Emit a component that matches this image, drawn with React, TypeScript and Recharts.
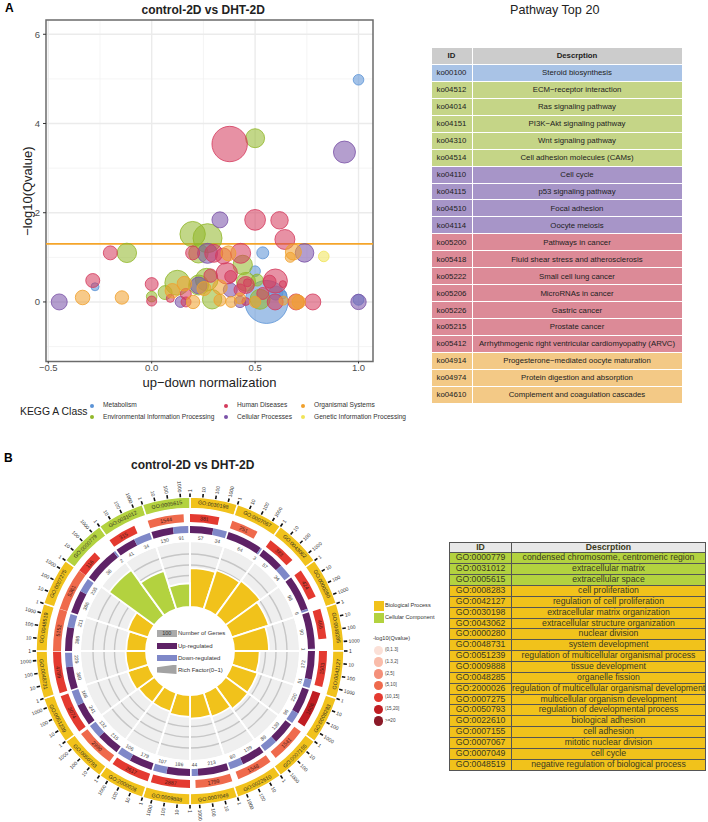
import React from 'react'
import {
    ScatterChart,
    Scatter,
    XAxis,
    YAxis,
    ZAxis,
    CartesianGrid,
    ReferenceLine,
    ReferenceArea,
    PieChart,
    Pie,
    Cell,
    Sector
} from 'recharts'

// bubbles: [up-down normalization, -log10(Qvalue), number of genes]
const metabolism = [
    [0.555, 0, 462], [1.0, 4.98, 28], [0.537, 1.1, 36], [0.5, 0.69, 28], [-0.274, 0.34, 16],
    [1.0, 0.05, 30], [0.634, 0.16, 16], [0.6, 0.2, 50]
]
const environmental = [
    [0.5, 3.67, 90], [0.198, 1.52, 161], [0.27, 1.43, 210], [-0.12, 1.1, 94], [0.44, 0.83, 94],
    [0.124, 0.43, 156], [0.266, 0.5, 128], [0.227, 0.38, 100], [0.065, 0.21, 49], [0, 0.12, 28],
    [0.292, 0.06, 94], [0.456, 0.45, 90], [0.524, 0.06, 100], [0.226, 1.09, 94], [0.51, 0.49, 36]
]
const cellular = [
    [0.932, 3.36, 121], [0.33, 1.84, 64], [-0.447, 0, 64], [0.739, 1.1, 86], [1.0, 0, 59],
    [0.27, 1.09, 100], [0.14, 0, 30], [0.427, 0, 32], [0.227, 0.37, 70], [0.38, 0.27, 49]
]
const humanDiseases = [
    [0.377, 3.54, 313], [0.5, 1.84, 108], [0.618, 1.83, 76], [0.644, 1.4, 100], [-0.2, 1.1, 49],
    [-0.285, 0.48, 49], [0, 0.4, 42], [0, 0.02, 25], [0.198, 1.1, 49], [0.3, 1.09, 81],
    [0.347, 1.03, 64], [0.43, 1.09, 100], [0.363, 0.64, 114], [0.285, 0.59, 45], [0.382, 0.57, 36],
    [0.598, 0.47, 144], [0.57, 0.455, 42], [0.634, 0.4, 12], [0.455, 0.38, 72], [0.463, 0.43, 16],
    [0.427, 0.27, 36], [0.165, 0.18, 30], [0.166, 0, 25], [0.537, 0.19, 36], [0.597, 0, 64],
    [0.698, 0, 64], [0.779, 0, 64], [0.455, 0.01, 16], [0.09, 0.08, 16]
]
const organismal = [
    [-0.334, 0.1, 53], [-0.144, 0.1, 45], [0.1, 0.25, 53], [0.158, 0.41, 53], [0.2, 0, 45],
    [0.371, 1.09, 56], [0.33, 0.33, 53], [0.253, 0.3, 49], [0.33, 0.04, 36], [0.384, 0, 30],
    [0.427, 0.08, 30], [0.5, 0, 32], [0.637, 0.03, 20], [0.7, 0, 56], [0.711, 0, 45],
    [0.67, 1.0, 25], [0.685, 1.12, 64]
]
const genetic = [[0.832, 1.02, 28]]

const bubbleClasses = [
    { name: 'Metabolism', rows: metabolism, color: '#5b93d6' },
    { name: 'Environmental Information Processing', rows: environmental, color: '#92b82a' },
    { name: 'Cellular Processes', rows: cellular, color: '#7a52a8' },
    { name: 'Human Diseases', rows: humanDiseases, color: '#d43a5c' },
    { name: 'Organismal Systems', rows: organismal, color: '#f0a02c' },
    { name: 'Genetic Information Processing', rows: genetic, color: '#f0e458' }
]

const keggLegend = [
    ['Metabolism', 'Human Diseases', 'Organismal Systems'],
    ['Environmental Information Processing', 'Cellular Processes', 'Genetic Information Processing']
]

const pathwayIds = [
    'ko00100', 'ko04512', 'ko04014', 'ko04151', 'ko04310', 'ko04514', 'ko04110', 'ko04115', 'ko04510', 'ko04114',
    'ko05200', 'ko05418', 'ko05222', 'ko05206', 'ko05226', 'ko05215', 'ko05412', 'ko04914', 'ko04974', 'ko04610'
]
const pathwayNames = [
    'Steroid biosynthesis', 'ECM−receptor interaction', 'Ras signaling pathway', 'PI3K−Akt signaling pathway',
    'Wnt signaling pathway', 'Cell adhesion molecules (CAMs)', 'Cell cycle', 'p53 signaling pathway',
    'Focal adhesion', 'Oocyte meiosis', 'Pathways in cancer', 'Fluid shear stress and atherosclerosis',
    'Small cell lung cancer', 'MicroRNAs in cancer', 'Gastric cancer', 'Prostate cancer',
    'Arrhythmogenic right ventricular cardiomyopathy (ARVC)', 'Progesterone−mediated oocyte maturation',
    'Protein digestion and absorption', 'Complement and coagulation cascades'
]
const pathwayColors = [
    '#a9c3e6',
    '#c5d587', '#c5d587', '#c5d587', '#c5d587', '#c5d587',
    '#a795c8', '#a795c8', '#a795c8', '#a795c8',
    '#dc8a97', '#dc8a97', '#dc8a97', '#dc8a97', '#dc8a97', '#dc8a97', '#dc8a97',
    '#f3c986', '#f3c986', '#f3c986'
]

// circle sectors, clockwise from 12 o'clock
const goIds = [
    'GO:0030198', 'GO:0007067', 'GO:0043062', 'GO:0000280', 'GO:0048285', 'GO:0042127', 'GO:0008283',
    'GO:0007155', 'GO:0022610', 'GO:0007049', 'GO:0009888', 'GO:2000026', 'GO:0050793', 'GO:0051239',
    'GO:0048731', 'GO:0048519', 'GO:0007275', 'GO:0000779', 'GO:0031012', 'GO:0005615'
]
const geneCounts = [381, 251, 383, 424, 466, 1503, 1606, 1541, 1548, 1799, 2887, 2617, 2990, 3074, 4789, 5152, 5361, 116, 315, 1544]
const upCounts = [57, 64, 57, 98, 90, 172, 220, 139, 139, 213, 186, 179, 215, 241, 360, 386, 386, 38, 41, 130]
const downCounts = [34, 3, 34, 6, 1, 51, 96, 89, 80, 44, 107, 106, 132, 166, 229, 211, 235, 2, 34, 91]
const richFactors = [0.59, 0.62, 0.65, 0.59, 0.53, 0.39, 0.41, 0.42, 0.38, 0.36, 0.33, 0.3, 0.3, 0.33, 0.31, 0.3, 0.33, 0.85, 0.61, 0.36]
const qvalueBins = [4, 3, 4, 4, 4, 4, 5, 3, 3, 3, 4, 4, 3, 4, 4, 3, 3, 4, 4, 3]
const goClasses = ['BP', 'BP', 'BP', 'BP', 'BP', 'BP', 'BP', 'BP', 'BP', 'BP', 'BP', 'BP', 'BP', 'BP', 'BP', 'BP', 'BP', 'CC', 'CC', 'CC']
const tickValues = ['1', '10', '100', '1000']

const qvalueLabels = ['(0,1.3]', '(1.3,2]', '(2,5]', '(5,10]', '(10,15]', '(15,20]', '>=20']
const qvalueColors = ['#fbe0d7', '#f9bcaa', '#f4907a', '#ef6a4c', '#e43a30', '#c01d22', '#8b1a28']
const classColors: Record<string, string> = { BP: '#f1c21b', CC: '#b3d23f' }

const goTableIds = [
    'GO:0000779', 'GO:0031012', 'GO:0005615', 'GO:0008283', 'GO:0042127', 'GO:0030198', 'GO:0043062',
    'GO:0000280', 'GO:0048731', 'GO:0051239', 'GO:0009888', 'GO:0048285', 'GO:2000026', 'GO:0007275',
    'GO:0050793', 'GO:0022610', 'GO:0007155', 'GO:0007067', 'GO:0007049', 'GO:0048519'
]
const goTableNames = [
    'condensed chromosome, centromeric region', 'extracellular matrix', 'extracellular space', 'cell proliferation',
    'regulation of cell proliferation', 'extracellular matrix organization', 'extracellular structure organization',
    'nuclear division', 'system development', 'regulation of multicellular organismal process', 'tissue development',
    'organelle fission', 'regulation of multicellular organismal development', 'multicellular organism development',
    'regulation of developmental process', 'biological adhesion', 'cell adhesion', 'mitotic nuclear division',
    'cell cycle', 'negative regulation of biological process'
]

const SECTOR = 18
const DECADE = 4.8
const HOLE = 44
const RICH_SPAN = 66

const outerRing = goIds.map((id, i) => ({ id, value: 1, cls: goClasses[i] }))
const richRing = goIds.map((id, i) => ({ id, value: 1, rich: richFactors[i], cls: goClasses[i] }))
const countRing = geneCounts.flatMap((count, i) => {
    const span = Math.log10(count) * DECADE
    return [{ value: span, count, bin: qvalueBins[i] }, { value: SECTOR - span, bin: -1 }]
})
const regulationRing = upCounts.flatMap((up, i) => {
    const total = up + downCounts[i]
    return [
        { value: (up / total) * 17.2, count: up, kind: 'up' },
        { value: (downCounts[i] / total) * 17.2, count: downCounts[i], kind: 'down' },
        { value: 0.8, kind: 'gap' }
    ]
})
const tickRing = goIds.flatMap(() => tickValues.map((tick, i) => ({ tick, value: i === 3 ? SECTOR - 3 * DECADE : DECADE })))

const polar = (cx: number, cy: number, r: number, angle: number) => ({
    x: cx + r * Math.cos((angle * Math.PI) / 180),
    y: cy - r * Math.sin((angle * Math.PI) / 180)
})

const tangent = (angle: number) => {
    const t = ((90 - angle) % 360 + 360) % 360
    if (t > 90 && t < 270) return t - 180
    return t > 270 ? t - 360 : t
}

const ringText = (cx: number, cy: number, r: number, angle: number, text: any, size: number, color = '#33301f') => {
    const p = polar(cx, cy, r, angle)
    return (
        <text x={p.x} y={p.y} fontSize={size} fill={color} textAnchor="middle" dominantBaseline="central"
            transform={`rotate(${tangent(angle)} ${p.x} ${p.y})`}>{text}</text>
    )
}

const renderOuterLabel = (props: any) =>
    ringText(props.cx, props.cy, (props.innerRadius + props.outerRadius) / 2, props.midAngle, props.payload.id ?? props.id, 5.4)

const renderCountLabel = (props: any) => {
    const count = props.payload.count ?? props.count
    if (count === undefined) return <g />
    return ringText(props.cx, props.cy, (props.innerRadius + props.outerRadius) / 2, props.midAngle, count, 5.4, '#4a1a14')
}

const renderRegulationLabel = (props: any) => {
    const count = props.payload.count ?? props.count
    if (count === undefined) return <g />
    return ringText(props.cx, props.cy, 113.5, props.midAngle, count, 5, '#444')
}

const renderTick = (props: any) => {
    const { cx, cy, startAngle } = props
    const tick = props.payload.tick ?? props.tick
    const a = polar(cx, cy, 154, startAngle)
    const b = polar(cx, cy, 157.5, startAngle)
    const c = polar(cx, cy, 159, startAngle)
    const t = ((90 - startAngle) % 360 + 360) % 360
    const rightSide = t < 180
    return (
        <g>
            <line x1={a.x} y1={a.y} x2={b.x} y2={b.y} stroke="#111" strokeWidth={1.6} />
            <text x={c.x} y={c.y} fontSize={5} fill="#333" dominantBaseline="central"
                textAnchor={rightSide ? 'start' : 'end'}
                transform={`rotate(${rightSide ? t - 90 : t + 90} ${c.x} ${c.y})`}>{tick}</text>
        </g>
    )
}

const renderRichBar = (props: any) => {
    const rich = props.payload?.rich ?? props.rich
    return <Sector {...props} outerRadius={HOLE + RICH_SPAN * rich} />
}

const absText = (left: number, top: number, text: string, style: React.CSSProperties = {}) => (
    <div style={{ position: 'absolute', left, top, whiteSpace: 'nowrap', lineHeight: 1, ...style }}>{text}</div>
)

const GRID_RADII = [75.5, 86, 97]
const legendRowY = [405.5, 417]
const legendColX = [92, 226, 303]
const legendColors: Record<string, string> = {
    Metabolism: '#5b93d6', 'Environmental Information Processing': '#92b82a', 'Human Diseases': '#d43a5c',
    'Cellular Processes': '#7a52a8', 'Organismal Systems': '#f0a02c', 'Genetic Information Processing': '#f0e458'
}

const CX = 190
const CY = 181

export default function App() {
    return (
        <div style={{ position: 'absolute', left: 0, top: 0, width: 708, height: 822, background: '#fff', fontFamily: '"Liberation Sans", Arial, sans-serif', overflow: 'hidden' }}>
            {absText(5, 2, 'A', { fontSize: 12, fontWeight: 700 })}
            {absText(4, 452, 'B', { fontSize: 12, fontWeight: 700 })}
            {absText(141.5, 3.5, 'control-2D vs DHT-2D', { fontSize: 12, fontWeight: 700, color: '#222' })}
            {absText(131, 459, 'control-2D vs DHT-2D', { fontSize: 12, fontWeight: 700, color: '#222' })}
            {absText(510, 4, 'Pathway Top 20', { fontSize: 12.6, color: '#222' })}

            <div style={{ position: 'absolute', left: 0, top: 0 }}>
                <ScatterChart width={400} height={400} margin={{ top: 20, right: 27, bottom: 0, left: 0 }}>
                    <CartesianGrid stroke="#f1f1f1" strokeWidth={0.8} horizontalValues={[-1, 1, 3, 5]} verticalValues={[-0.25, 0.25, 0.75]} />
                    <CartesianGrid stroke="#ebebeb" strokeWidth={1.4} horizontalValues={[0, 2, 4, 6]} verticalValues={[-0.5, 0, 0.5, 1]} />
                    <XAxis type="number" dataKey="x" domain={[-0.511, 1.07]} ticks={[-0.5, 0, 0.5, 1]} height={38.5}
                        tickFormatter={(v: number) => (v < 0 ? '−' + Math.abs(v).toFixed(1) : v.toFixed(1))}
                        tick={{ fontSize: 9.5, fill: '#4d4d4d' }} tickSize={2} tickMargin={1}
                        axisLine={false} tickLine={{ stroke: '#333' }}
                        label={{ value: 'up−down normalization', position: 'insideBottom', offset: 13.5, fontSize: 13, fill: '#222' }} />
                    <YAxis type="number" dataKey="y" domain={[-1.335, 6.32]} ticks={[0, 2, 4, 6]} width={46}
                        tick={{ fontSize: 9.5, fill: '#4d4d4d' }} tickSize={3} tickMargin={3}
                        axisLine={false} tickLine={{ stroke: '#333' }}
                        label={{ value: '−log10(Qvalue)', angle: -90, position: 'insideLeft', offset: 27, dy: 45, fontSize: 13, fill: '#222' }} />
                    <ZAxis type="number" dataKey="z" domain={[0, 500]} range={[0, 500 * Math.PI]} />
                    {bubbleClasses.map((c) => (
                        <Scatter key={c.name} name={c.name} data={c.rows.map(([x, y, z]) => ({ x, y, z }))}
                            fill={c.color} fillOpacity={0.56} stroke={c.color} strokeOpacity={0.8} strokeWidth={1}
                            isAnimationActive={false} />
                    ))}
                    <ReferenceLine y={1.3} stroke="#f5a52a" strokeWidth={1.8} />
                    <ReferenceArea x1={-0.511} x2={1.07} y1={-1.335} y2={6.32} fill="none" stroke="#6b6b6b" strokeWidth={1.5} />
                </ScatterChart>
            </div>

            {absText(20, 406.5, 'KEGG A Class', { fontSize: 10.4, color: '#222' })}
            {keggLegend.map((row, r) => row.map((name, c) => (
                <React.Fragment key={name}>
                    <div style={{ position: 'absolute', left: legendColX[c] - 2, top: legendRowY[r] - 2, width: 4, height: 4, borderRadius: 2, background: legendColors[name] }} />
                    {absText(legendColX[c] + 11, legendRowY[r] - 3.5, name, { fontSize: 6.6, color: '#333' })}
                </React.Fragment>
            )))}

            <table style={{ position: 'absolute', left: 430.5, top: 47, width: 252, tableLayout: 'fixed', borderCollapse: 'collapse', fontSize: 7.8, color: '#222' }}>
                <colgroup><col style={{ width: 41 }} /><col /></colgroup>
                <tbody>
                    <tr style={{ height: 16.95 }}>
                        <td style={{ background: '#cccccc', textAlign: 'center', fontWeight: 700, border: '1px solid #fff', padding: 0 }}>ID</td>
                        <td style={{ background: '#cccccc', textAlign: 'center', fontWeight: 700, border: '1px solid #fff', padding: 0 }}>Descrption</td>
                    </tr>
                    {pathwayIds.map((id, i) => (
                        <tr key={id} style={{ height: 16.95 }}>
                            <td style={{ background: pathwayColors[i], textAlign: 'center', border: '1px solid #fff', padding: 0 }}>{id}</td>
                            <td style={{ background: pathwayColors[i], textAlign: 'center', border: '1px solid #fff', padding: 0, whiteSpace: 'nowrap' }}>{pathwayNames[i]}</td>
                        </tr>
                    ))}
                </tbody>
            </table>

            <div style={{ position: 'absolute', left: 0, top: 470 }}>
                <PieChart width={372} height={352} margin={{ top: 0, right: 0, bottom: 0, left: 0 }}>
                    <Pie data={outerRing} dataKey="value" cx={CX} cy={CY} innerRadius={HOLE} outerRadius={109} startAngle={90} endAngle={-270}
                        fill="#efefef" stroke="none" isAnimationActive={false} />
                    {GRID_RADII.map((r) => (
                        <Pie key={r} data={outerRing} dataKey="value" cx={CX} cy={CY} innerRadius={r - 0.7} outerRadius={r + 0.7} startAngle={90} endAngle={-270}
                            fill="#c6c6c6" stroke="none" isAnimationActive={false} />
                    ))}
                    <Pie data={outerRing} dataKey="value" cx={CX} cy={CY} innerRadius={HOLE} outerRadius={110} startAngle={90} endAngle={-270}
                        fill="none" stroke="#fff" strokeWidth={1.8} isAnimationActive={false} />
                    <Pie data={richRing} dataKey="value" cx={CX} cy={CY} innerRadius={HOLE} outerRadius={109} startAngle={90} endAngle={-270}
                        stroke="#fff" strokeWidth={1.8} shape={renderRichBar} isAnimationActive={false}>
                        {richRing.map((d) => <Cell key={d.id} fill={classColors[d.cls]} />)}
                    </Pie>
                    <Pie data={outerRing} dataKey="value" cx={CX} cy={CY} innerRadius={142.5} outerRadius={154} startAngle={90} endAngle={-270}
                        stroke="#fff" strokeWidth={1.5} label={renderOuterLabel} labelLine={false} isAnimationActive={false}>
                        {outerRing.map((d) => <Cell key={d.id} fill={classColors[d.cls]} />)}
                    </Pie>
                    <Pie data={countRing} dataKey="value" cx={CX} cy={CY} innerRadius={129} outerRadius={137} startAngle={90} endAngle={-270}
                        stroke="none" label={renderCountLabel} labelLine={false} isAnimationActive={false}>
                        {countRing.map((d, i) => <Cell key={i} fill={d.bin < 0 ? 'none' : qvalueColors[d.bin]} />)}
                    </Pie>
                    <Pie data={regulationRing} dataKey="value" cx={CX} cy={CY} innerRadius={118} outerRadius={125} startAngle={90} endAngle={-270}
                        stroke="none" label={renderRegulationLabel} labelLine={false} isAnimationActive={false}>
                        {regulationRing.map((d, i) => <Cell key={i} fill={d.kind === 'up' ? '#5e2266' : d.kind === 'down' ? '#7f88c8' : 'none'} />)}
                    </Pie>
                    <Pie data={tickRing} dataKey="value" cx={CX} cy={CY} innerRadius={154} outerRadius={156} startAngle={90} endAngle={-270}
                        fill="none" stroke="none" label={renderTick} labelLine={false} isAnimationActive={false} />
                </PieChart>
            </div>

            <div style={{ position: 'absolute', left: 157, top: 630, width: 19.5, height: 6.5, background: '#aaa', fontSize: 5.5, lineHeight: '6.5px', textAlign: 'center', color: '#333' }}>100</div>
            <div style={{ position: 'absolute', left: 157, top: 642.5, width: 19.5, height: 6.5, background: '#5e2266' }} />
            <div style={{ position: 'absolute', left: 157, top: 654.5, width: 19.5, height: 6.5, background: '#7f88c8' }} />
            <div style={{ position: 'absolute', left: 157, top: 664.5, width: 19.5, height: 9.5, background: '#a3a3a3', clipPath: 'polygon(0 30%, 100% 0, 100% 100%, 0 85%)' }} />
            {absText(178, 630, 'Number of Genes', { fontSize: 6, color: '#333' })}
            {absText(178, 642.5, 'Up-regulated', { fontSize: 6, color: '#333' })}
            {absText(178, 654.5, 'Down-regulated', { fontSize: 6, color: '#333' })}
            {absText(178, 666.5, 'Rich Factor(0~1)', { fontSize: 6, color: '#333' })}

            <div style={{ position: 'absolute', left: 373.5, top: 601, width: 10, height: 10, background: classColors.BP }} />
            <div style={{ position: 'absolute', left: 373.5, top: 613, width: 10, height: 10, background: classColors.CC }} />
            {absText(385, 603, 'Biological Process', { fontSize: 5.6, color: '#333' })}
            {absText(385, 615, 'Cellular Component', { fontSize: 5.6, color: '#333' })}
            {absText(373, 636, '-log10(Qvalue)', { fontSize: 5.6, color: '#333' })}
            {qvalueLabels.map((label, i) => (
                <React.Fragment key={label}>
                    <div style={{ position: 'absolute', left: 373.5, top: 645.5 + i * 11.8, width: 9.5, height: 9.5, borderRadius: 5, background: qvalueColors[i] }} />
                    {absText(385, 648 + i * 11.8, label, { fontSize: 4.6, color: '#444' })}
                </React.Fragment>
            ))}

            <table style={{ position: 'absolute', left: 449, top: 541.5, width: 257, tableLayout: 'fixed', borderCollapse: 'collapse', fontSize: 8.7, color: '#3a3a20' }}>
                <colgroup><col style={{ width: 62 }} /><col /></colgroup>
                <tbody>
                    <tr style={{ height: 10.87 }}>
                        <td style={{ background: '#e8e8e8', textAlign: 'center', fontWeight: 700, border: '0.8px solid #555', padding: 0, lineHeight: '9.8px' }}>ID</td>
                        <td style={{ background: '#e8e8e8', textAlign: 'center', fontWeight: 700, border: '0.8px solid #555', padding: 0, lineHeight: '9.8px' }}>Descrption</td>
                    </tr>
                    {goTableIds.map((id, i) => (
                        <tr key={id} style={{ height: 10.87 }}>
                            <td style={{ background: i < 3 ? classColors.CC : classColors.BP, textAlign: 'center', border: '0.8px solid #555', padding: 0, lineHeight: '9.8px' }}>{id}</td>
                            <td style={{ background: i < 3 ? classColors.CC : classColors.BP, textAlign: 'center', border: '0.8px solid #555', padding: 0, lineHeight: '9.8px', whiteSpace: 'nowrap' }}>{goTableNames[i]}</td>
                        </tr>
                    ))}
                </tbody>
            </table>
        </div>
    )
}
